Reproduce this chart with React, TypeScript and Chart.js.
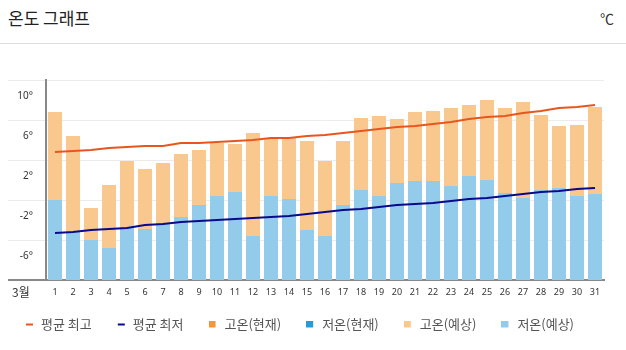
import React, { useEffect, useRef } from "react";
import { Chart, registerables } from "chart.js";

Chart.register(...registerables);

const days = ["1","2","3","4","5","6","7","8","9","10","11","12","13","14","15","16","17","18","19","20","21","22","23","24","25","26","27","28","29","30","31"];

const highForecast = [6.8, 4.4, -2.8, -0.5, 1.9, 1.1, 1.7, 2.6, 3.0, 3.7, 3.6, 4.7, 4.1, 4.2, 3.9, 1.9, 3.9, 6.2, 6.4, 6.1, 6.8, 6.9, 7.2, 7.5, 8.0, 7.2, 7.8, 6.5, 5.4, 5.5, 7.3];
const lowForecast = [-2.0, -5.2, -6.0, -6.8, -4.7, -4.9, -4.3, -3.7, -2.5, -1.6, -1.2, -5.6, -1.6, -1.9, -5.0, -5.6, -2.5, -1.0, -1.6, -0.3, -0.1, -0.1, -0.6, 0.4, 0.0, -1.3, -1.8, -1.0, -0.8, -1.6, -1.4];
const avgHigh = [2.8, 2.9, 3.0, 3.2, 3.3, 3.4, 3.4, 3.7, 3.7, 3.8, 3.9, 4.0, 4.2, 4.2, 4.4, 4.5, 4.7, 4.9, 5.1, 5.3, 5.4, 5.6, 5.8, 6.1, 6.3, 6.4, 6.7, 6.9, 7.2, 7.3, 7.5];
const avgLow = [-5.3, -5.2, -5.0, -4.9, -4.8, -4.5, -4.4, -4.2, -4.1, -4.0, -3.9, -3.8, -3.7, -3.6, -3.4, -3.2, -3.0, -2.9, -2.7, -2.5, -2.4, -2.3, -2.1, -1.9, -1.8, -1.6, -1.4, -1.2, -1.1, -0.9, -0.8];
const highCurrent: (number | null)[] = [];
const lowCurrent: (number | null)[] = [];

const yMin = -10;
const yMax = 10;
const yStep = 4;

const seriesNames = ["평균 최고", "평균 최저", "고온(현재)", "저온(현재)", "고온(예상)", "저온(예상)"];
const seriesColors = ["#E8561F", "#0A0A8C", "#F5963C", "#2A9AD4", "#F9C88E", "#93CBEB"];

function makeIcon(color: string, kind: "line" | "rect") {
  const c = document.createElement("canvas");
  c.width = 10;
  c.height = 8;
  const g = c.getContext("2d")!;
  g.fillStyle = color;
  if (kind === "line") g.fillRect(1, 3, 7, 2);
  else g.fillRect(0, 0, 7, 7);
  return c;
}

const legendShift = {
  id: "legendShift",
  beforeDraw(chart: any) {
    if (chart.legend && !chart.legend._shifted) {
      chart.legend.top -= 5.3;
      chart.legend.bottom -= 5.3;
      chart.legend._shifted = true;
    }
  },
};

export default function App() {
  const ref = useRef<HTMLCanvasElement | null>(null);

  useEffect(() => {
    if (!ref.current) return;
    const icons = [
      makeIcon(seriesColors[0], "line"),
      makeIcon(seriesColors[1], "line"),
      makeIcon(seriesColors[2], "rect"),
      makeIcon(seriesColors[3], "rect"),
      makeIcon(seriesColors[4], "rect"),
      makeIcon(seriesColors[5], "rect"),
    ];
    const chart = new Chart(ref.current, {
      type: "bar",
      plugins: [legendShift],
      data: {
        labels: days,
        datasets: [
          {
            type: "line",
            label: seriesNames[0],
            data: avgHigh,
            borderColor: seriesColors[0],
            backgroundColor: seriesColors[0],
            borderWidth: 2.2,
            pointRadius: 0,
            tension: 0,
            order: 0,
          },
          {
            type: "line",
            label: seriesNames[1],
            data: avgLow,
            borderColor: seriesColors[1],
            backgroundColor: seriesColors[1],
            borderWidth: 2.2,
            pointRadius: 0,
            tension: 0,
            order: 0,
          },
          {
            type: "bar",
            label: seriesNames[2],
            data: highCurrent as any,
            backgroundColor: seriesColors[2],
            grouped: false,
            order: 1,
          },
          {
            type: "bar",
            label: seriesNames[3],
            data: lowCurrent as any,
            backgroundColor: seriesColors[3],
            grouped: false,
            order: 1,
          },
          {
            type: "bar",
            label: seriesNames[4],
            data: highForecast.map((h, i) => [lowForecast[i], h]) as any,
            backgroundColor: seriesColors[4],
            grouped: false,
            order: 1,
          },
          {
            type: "bar",
            label: seriesNames[5],
            data: lowForecast.map((l) => [yMin, l]) as any,
            backgroundColor: seriesColors[5],
            grouped: false,
            order: 1,
          },
        ],
      },
      options: {
        responsive: false,
        animation: false,
        devicePixelRatio: 1,
        datasets: {
          bar: { categoryPercentage: 1, barPercentage: 0.78, borderWidth: 0 },
        } as any,
        layout: { padding: { left: 0, right: 0, top: 30, bottom: 3.7 } },
        scales: {
          x: {
            offset: true,
            grid: { display: false, drawTicks: false },
            border: { display: true, color: "#888", width: 2 },
            ticks: {
              padding: 7,
              color: "#333",
              font: { family: "'Noto Sans', sans-serif", size: 9 },
              autoSkip: false,
              maxRotation: 0,
            },
            afterFit: (s: any) => {
              s.height = 17.8;
            },
          },
          y: {
            min: yMin,
            max: yMax,
            ticks: {
              stepSize: yStep,
              labelOffset: 16,
              padding: -25,
              color: "#333",
              font: { family: "'Noto Sans', sans-serif", size: 10 },
              callback: (v: any) => (Number(v) === yMin ? "" : `${v}°`),
            },
            grid: {
              tickLength: 38,
              color: (c: any) => (c.tick && c.tick.value === yMin ? "#888" : "#ececec"),
              lineWidth: (c: any) => (c.tick && c.tick.value === yMin ? 2 : 1),
            },
            border: { display: true, color: "#888", width: 2 },
            afterFit: (s: any) => {
              s.width = 46;
            },
          },
          yRight: {
            position: "right",
            display: true,
            grid: { display: false },
            ticks: { display: false },
            border: { display: false },
            afterFit: (s: any) => {
              s.width = 22;
            },
          },
        },
        plugins: {
          tooltip: { enabled: false },
          legend: {
            position: "bottom",
            align: "start",
            labels: {
              usePointStyle: true,
              pointStyleWidth: 9,
              boxHeight: 8,
              padding: 25.5,
              color: "#555",
              font: { family: "'Noto Sans CJK KR', sans-serif", size: 13 },
              generateLabels: (ch: any) => {
                const items = (Chart.defaults.plugins.legend.labels as any).generateLabels(ch);
                items.forEach((it: any) => {
                  it.pointStyle = icons[it.datasetIndex];
                });
                return items;
              },
            },
          },
        },
      },
    });
    return () => chart.destroy();
  }, []);

  return (
    <div style={{ position: "absolute", left: 0, top: 0, width: 626, height: 350, overflow: "hidden", background: "#fff", fontFamily: "'Noto Sans CJK KR', sans-serif" }}>
      <div style={{ position: "absolute", left: 8, top: 6, fontSize: 17, lineHeight: "23px", color: "#222" }}>온도 그래프</div>
      <div style={{ position: "absolute", right: 12, top: 8, fontSize: 14, lineHeight: "20px", color: "#333" }}>℃</div>
      <div style={{ position: "absolute", left: 0, top: 43, width: 626, height: 1, background: "#ddd" }} />
      <canvas ref={ref} width={626} height={300} style={{ position: "absolute", left: 0, top: 50, width: 626, height: 300 }} />
      <div style={{ position: "absolute", left: 12, top: 284, fontSize: 12, lineHeight: "16px", color: "#333" }}>3월</div>
    </div>
  );
}
